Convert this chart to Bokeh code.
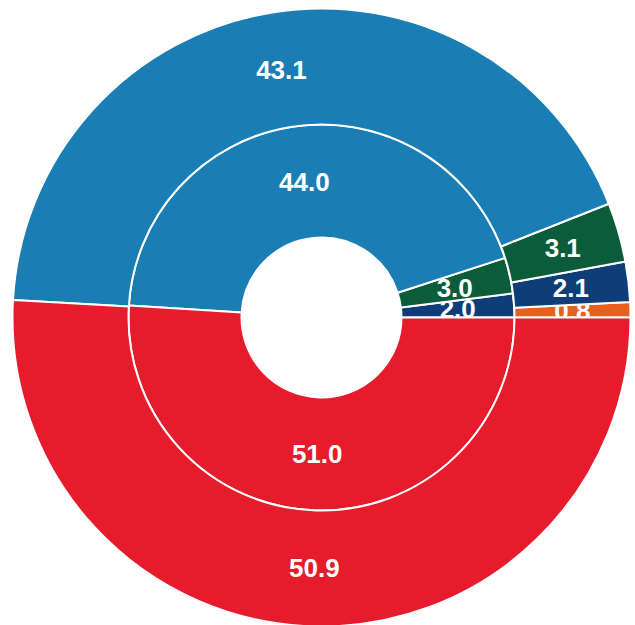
import math
from bokeh.plotting import figure
from bokeh.models import ColumnDataSource
from bokeh.core.properties import value
from bokeh.embed import file_html
from bokeh.resources import INLINE

# Data (counter-clockwise order starting at 3 o'clock)
outer_labels = ["0.8", "2.1", "3.1", "43.1", "50.9"]
outer_values = [0.8, 2.1, 3.1, 43.1, 50.9]
outer_colors = ["#e4621e", "#0e3d78", "#0a5c3b", "#1a7eb5", "#e61b2b"]

inner_labels = ["2.0", "3.0", "44.0", "51.0"]
inner_values = [2.0, 3.0, 44.0, 51.0]
inner_colors = ["#0e3d78", "#0a5c3b", "#1a7eb5", "#e61b2b"]

HOLE_R = 80
MID_R = 193
OUTER_R = 309

p = figure(width=635, height=625, x_range=(-321, 314), y_range=(-308, 317),
           output_backend="svg", toolbar_location=None, min_border=0)
p.axis.visible = False
p.grid.visible = False
p.outline_line_color = None
p.background_fill_color = "white"


def draw_ring(labels, values, colors, r0, r1):
    total = sum(values)
    start = 0.0
    for lab, v, c in zip(labels, values, colors):
        span = 2 * math.pi * v / total
        end = start + span
        mid = (start + end) / 2
        rm = (r0 + r1) / 2
        src = ColumnDataSource(dict(x=[0], y=[0], s=[start], e=[end],
                                    tx=[rm * math.cos(mid)], ty=[rm * math.sin(mid)],
                                    t=[lab]))
        p.annular_wedge(x="x", y="y", inner_radius=r0, outer_radius=r1,
                        start_angle="s", end_angle="e", source=src,
                        fill_color=c, line_color="white", line_width=2)
        p.text(x="tx", y="ty", text="t", source=src, text_color="white",
               text_font=value("Liberation Sans"), text_font_style="bold",
               text_font_size="26px", text_align="center", text_baseline="middle")
        start = end


draw_ring(inner_labels, inner_values, inner_colors, HOLE_R, MID_R)
draw_ring(outer_labels, outer_values, outer_colors, MID_R, OUTER_R)

open("out.html", "w").write(file_html(p, INLINE))
